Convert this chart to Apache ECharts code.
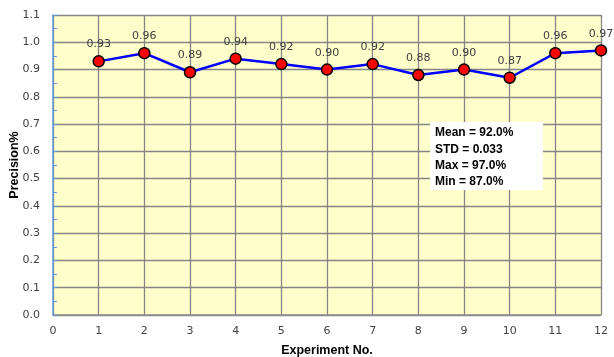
<!DOCTYPE html>
<html>
<head>
<meta charset="utf-8">
<script src="https://cdn.jsdelivr.net/npm/echarts@6/dist/echarts.min.js"></script>
<style>
  html, body { margin: 0; padding: 0; background: #fff; }
  #chart { width: 614px; height: 357px; }
</style>
</head>
<body>
<div id="chart"></div>
<script>
// Precision per experiment run
const experiments = [1, 2, 3, 4, 5, 6, 7, 8, 9, 10, 11, 12];
const precision = [0.93, 0.96, 0.89, 0.94, 0.92, 0.90, 0.92, 0.88, 0.90, 0.87, 0.96, 0.97];
const statsLines = ['Mean = 92.0%', 'STD = 0.033', 'Max = 97.0%', 'Min = 87.0%'];

const chart = echarts.init(document.getElementById('chart'));

const tickFont = { fontFamily: 'DejaVu Sans', fontSize: 11, color: '#404040' };

chart.setOption({
  animation: false,
  backgroundColor: '#ffffff',
  grid: {
    left: 53, right: 13, top: 15, bottom: 42,
    containLabel: false, outerBoundsMode: 'none',
    show: true, backgroundColor: '#FFFFCC', borderWidth: 0
  },
  xAxis: {
    type: 'value', min: 0, max: 12, interval: 1,
    name: 'Experiment No.', nameLocation: 'middle', nameGap: 29,
    nameMoveOverlap: false,
    nameTextStyle: { fontFamily: 'Liberation Sans', fontWeight: 'bold', fontSize: 12.5, color: '#000' },
    axisLine: { show: true, lineStyle: { color: '#8C8C8C', width: 1.5 } },
    axisTick: { show: false },
    axisLabel: Object.assign({ margin: 11 }, tickFont),
    splitLine: { show: true, lineStyle: { color: '#858585', width: 1.3 } }
  },
  yAxis: {
    type: 'value', min: 0, max: 1.1, interval: 0.1,
    name: 'Precision%', nameLocation: 'middle', nameGap: 32,
    nameMoveOverlap: false,
    nameTextStyle: { fontFamily: 'Liberation Sans', fontWeight: 'bold', fontSize: 12.5, color: '#000' },
    axisLine: { show: true, lineStyle: { color: '#5B9BD5', width: 1.5 } },
    axisTick: { show: true, inside: true, length: 4, lineStyle: { color: '#5B9BD5' } },
    minorTick: { show: true, splitNumber: 2, length: 4, lineStyle: { color: '#5B9BD5' } },
    axisLabel: Object.assign({ margin: 13, formatter: v => v.toFixed(1) }, tickFont),
    splitLine: { show: true, lineStyle: { color: '#858585', width: 1.3 } }
  },
  series: [{
    type: 'line',
    data: experiments.map((x, i) => [x, precision[i]]),
    symbol: 'circle', symbolSize: 11,
    lineStyle: { color: '#0000FF', width: 2.5 },
    itemStyle: { color: '#FF0000', borderColor: '#000', borderWidth: 1.5 },
    label: {
      show: true, position: 'top', distance: 5,
      formatter: p => p.value[1].toFixed(2),
      fontFamily: 'DejaVu Sans', fontSize: 11, color: '#404040'
    },
    z: 5
  }],
  graphic: [
    {
      type: 'rect', left: 430, top: 122, z: 100, zlevel: 1,
      shape: { width: 113, height: 68 }, style: { fill: '#ffffff' }
    },
    {
      type: 'text', left: 435, top: 125, z: 101, zlevel: 1,
      style: {
        text: statsLines.join('\n'),
        font: 'bold 12px "Liberation Sans"',
        lineHeight: 16.3, fill: '#000'
      }
    }
  ]
});
</script>
</body>
</html>
